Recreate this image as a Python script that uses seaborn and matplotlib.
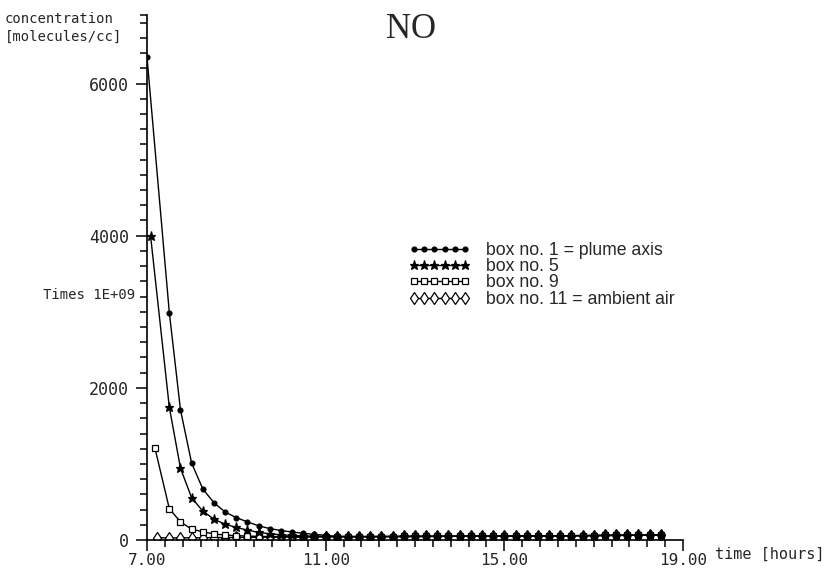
import seaborn as sns
from matplotlib import pyplot as plt
from matplotlib.ticker import FixedLocator
import pandas as pd

# time grid shared by all boxes after the first point [hours]
grid_hours = [7.5, 7.75, 8.0, 8.25, 8.5, 8.75, 9.0, 9.25, 9.5, 9.75,
              10.0, 10.25, 10.5, 10.75, 11.0, 11.25, 11.5, 11.75, 12.0, 12.25,
              12.5, 12.75, 13.0, 13.25, 13.5, 13.75, 14.0, 14.25, 14.5, 14.75,
              15.0, 15.25, 15.5, 15.75, 16.0, 16.25, 16.5, 16.75, 17.0, 17.25,
              17.5, 17.75, 18.0, 18.25, 18.5]

# common tail from 11.25 h on (all boxes nearly equal)
tail = [46, 45, 45, 45, 46, 46, 47, 47, 48, 48,
        49, 49, 50, 50, 51, 52, 52, 53, 54, 55,
        56, 57, 58, 59, 60, 61, 62, 63, 64, 65]

box1_start, box1_first = 7.0, 6350
box1_head = [2990, 1710, 1010, 671, 489, 368, 294, 238, 186, 150,
             125, 105, 88, 74, 62]

box5_start, box5_first = 7.08, 4000
box5_head = [1745, 944, 554, 381, 273, 208, 165, 130, 100, 82,
             68, 60, 54, 50, 48]

box9_start, box9_first = 7.18, 1204
box9_head = [412, 238, 143, 108, 80, 65, 58, 52, 48, 46,
             45, 44, 44, 45, 45]

box11_start, box11_first = 7.23, 30
box11_head = [28, 28, 30, 31, 32, 33, 34, 35, 36, 37,
              38, 39, 40, 41, 42]

labels = ["box no. 1 = plume axis", "box no. 5", "box no. 9",
          "box no. 11 = ambient air"]

series = [
    (box1_start, box1_first, box1_head),
    (box5_start, box5_first, box5_head),
    (box9_start, box9_first, box9_head),
    (box11_start, box11_first, box11_head),
]

frames = []
for lab, (t0, v0, head) in zip(labels, series):
    frames.append(pd.DataFrame({
        "time": [t0] + grid_hours,
        "conc": [v0] + head + tail,
        "box": lab,
    }))
df = pd.concat(frames, ignore_index=True)

sns.set_style("ticks")
mono = "DejaVu Sans Mono"

fig = plt.figure(figsize=(8.29, 5.74), dpi=100)
ax = fig.add_axes([0.1773, 0.0592, 0.6466, 0.9146])

styles = {
    labels[0]: dict(marker="o", markersize=3.5, markerfacecolor="black", zorder=2.4),
    labels[1]: dict(marker="*", markersize=6.5, markerfacecolor="black", zorder=2.3),
    labels[2]: dict(marker="s", markersize=4.5, markerfacecolor="white", zorder=2.2),
    labels[3]: dict(marker="d", markersize=6, markerfacecolor="white", zorder=2.1),
}

for lab in labels:
    sub = df[df.box == lab]
    sns.lineplot(x="time", y="conc", data=sub, ax=ax, color="black",
                 linewidth=1.0, markeredgecolor="black", markeredgewidth=0.9,
                 label=lab, **styles[lab])

ax.set_xlim(7, 19)
ax.set_ylim(0, 6900)
ax.set_xticks([7, 11, 15, 19])
ax.set_xticklabels(["7.00", "11.00", "15.00", "19.00"], fontfamily=mono, fontsize=11.5)
ax.xaxis.set_minor_locator(FixedLocator([7 + 0.4 * i for i in range(31)]))
ax.set_yticks([0, 2000, 4000, 6000])
ax.set_yticklabels(["0", "2000", "4000", "6000"], fontfamily=mono, fontsize=12)
ax.yaxis.set_minor_locator(FixedLocator(list(range(0, 6900, 200)) + [6900]))
ax.tick_params(which="major", direction="out", length=8, width=1.1, color="black", pad=5)
ax.tick_params(which="minor", direction="out", length=5, width=1.1, color="black")
ax.tick_params(axis="x", which="major", pad=1)
ax.set_xlabel("")
ax.set_ylabel("")
sns.despine(ax=ax)
for sp in ["left", "bottom"]:
    ax.spines[sp].set_linewidth(1.2)
    ax.spines[sp].set_color("black")

ax.legend(loc="upper left", bbox_to_anchor=(0.488, 0.568), frameon=False,
          numpoints=6, handlelength=3.5, handletextpad=0.9, labelspacing=-0.04,
          borderpad=0, borderaxespad=0,
          prop={"family": "Liberation Sans", "size": 12.7})

fig.text(411 / 829, 1 - 30 / 574, "NO", ha="center", va="center",
         fontfamily="Liberation Serif", fontsize=25)
fig.text(5 / 829, 1 - 28 / 574, "concentration\n[molecules/cc]", ha="left",
         va="center", fontfamily=mono, fontsize=10, linespacing=1.4)
fig.text(135 / 829, 1 - 295 / 574, "Times 1E+09", ha="right", va="center",
         fontfamily=mono, fontsize=10)
fig.text(715 / 829, 1 - 554 / 574, "time [hours]", ha="left", va="center",
         fontfamily=mono, fontsize=11)

fig.savefig("out.png", dpi=100)
